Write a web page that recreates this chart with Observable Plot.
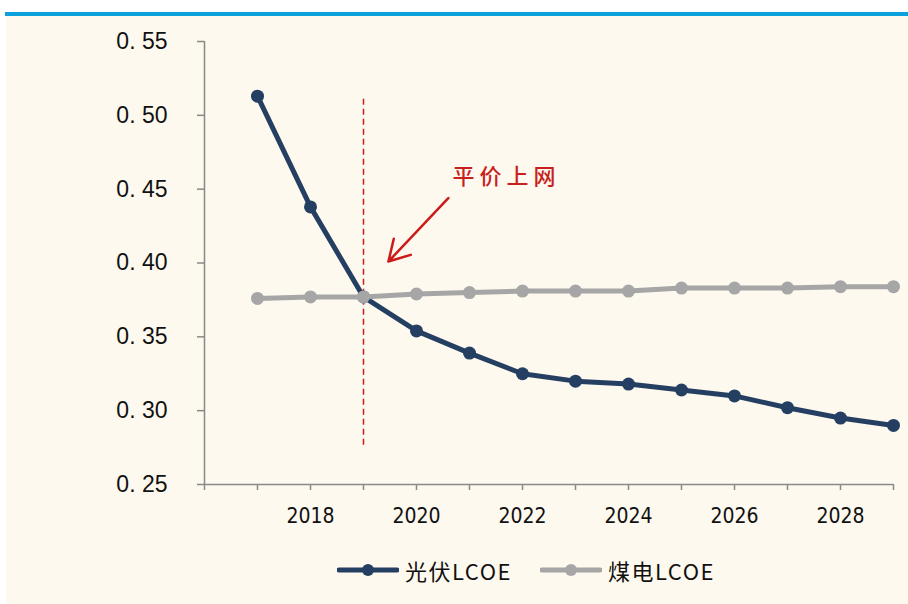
<!DOCTYPE html>
<html>
<head>
<meta charset="utf-8">
<script src="https://cdn.jsdelivr.net/npm/d3@7"></script>
<script src="https://cdn.jsdelivr.net/npm/@observablehq/plot@0.6"></script>
<style>
  html, body { margin: 0; padding: 0; background: #ffffff; }
  #wrap { position: relative; width: 908px; height: 604px; overflow: hidden; }
  #bg { position: absolute; left: 6px; top: 16px; right: 0; bottom: 0; background: #fef9ee; }
  #topbar { position: absolute; left: 5px; top: 12px; right: 0; height: 4px; background: #0aa1dd; }
  #chart { position: absolute; left: 0; top: 0; }
  #legend { position: absolute; left: 0; top: 553px; width: 908px; height: 34px; }
  .item { position: absolute; top: 0; display: flex; align-items: center; height: 34px;
          font-family: "Noto Sans CJK SC", sans-serif; font-size: 22px; color: #111; letter-spacing: 1.5px; }
  .item svg { margin-right: 6px; }
  .anno text { letter-spacing: 5px; }
</style>
</head>
<body>
<div id="wrap">
  <div id="bg"></div>
  <div id="topbar"></div>
  <div id="chart"></div>
  <div id="legend"></div>
</div>
<script>
// ---- data ----
const years = [2017, 2018, 2019, 2020, 2021, 2022, 2023, 2024, 2025, 2026, 2027, 2028, 2029];
const pvLCOE = [0.513, 0.438, 0.377, 0.354, 0.339, 0.325, 0.320, 0.318, 0.314, 0.310, 0.302, 0.295, 0.290];
const coalLCOE = [0.376, 0.377, 0.377, 0.379, 0.380, 0.381, 0.381, 0.381, 0.383, 0.383, 0.383, 0.384, 0.384];
const seriesNames = ["光伏LCOE", "煤电LCOE"];
const yTicks = [0.25, 0.30, 0.35, 0.40, 0.45, 0.50, 0.55];
const xTickYears = [2016, 2017, 2018, 2019, 2020, 2021, 2022, 2023, 2024, 2025, 2026, 2027, 2028, 2029];
const xLabelYears = [2018, 2020, 2022, 2024, 2026, 2028];
// annotation: parity year marker and arrow
const parityYear = [2019];
const parityRange = [0.2765, 0.511];
const annoText = ["平价上网"];
const annoTextPos = [2020.68, 0.458];
const arrowFrom = [2020.6, 0.444];
const arrowTo = [2019.47, 0.401];

const colors = ["#243f61", "#a6a6a6"];
const pvData = years.map((y, i) => ({year: y, v: pvLCOE[i]}));
const coalData = years.map((y, i) => ({year: y, v: coalLCOE[i]}));

const axisColor = "#898989";
const chart = Plot.plot({
  width: 908,
  height: 540,
  marginLeft: 204,
  marginRight: 15,
  marginTop: 41,
  marginBottom: 56,
  style: {background: "transparent", fontFamily: "Liberation Sans, Arial, sans-serif", color: "#111"},
  x: {domain: [2016, 2029], axis: null},
  y: {domain: [0.25, 0.55], axis: null},
  marks: [
    Plot.axisY({ticks: yTicks, tickSize: 7, tickPadding: 30, stroke: axisColor, strokeWidth: 1.5, label: null,
      tickFormat: d => d.toFixed(2).replace(".", ". "), fontSize: 23, fill: "#111"}),
    Plot.axisX({ticks: xTickYears, tickSize: 6, tickPadding: 18, stroke: axisColor, strokeWidth: 1.5, label: null,
      tickFormat: d => xLabelYears.includes(d) ? String(d) : "", fontSize: 21, fill: "#111",
      fontFamily: "Liberation Sans Narrow, DejaVu Sans Condensed, sans-serif"}),
    Plot.ruleX([2016], {y1: 0.25, y2: 0.55, stroke: axisColor, strokeWidth: 1.5}),
    Plot.ruleY([0.25], {x1: 2016, x2: 2029, stroke: axisColor, strokeWidth: 1.5}),
    Plot.ruleX(parityYear, {x: d => d, y1: parityRange[0], y2: parityRange[1], stroke: "#cc1b1b", strokeWidth: 1.5, strokeDasharray: "6,4"}),
    Plot.line(pvData, {x: "year", y: "v", stroke: colors[0], strokeWidth: 5}),
    Plot.dot(pvData, {x: "year", y: "v", r: 6.5, fill: colors[0], stroke: "none"}),
    Plot.line(coalData, {x: "year", y: "v", stroke: colors[1], strokeWidth: 5}),
    Plot.dot(coalData, {x: "year", y: "v", r: 6.5, fill: colors[1], stroke: "none"}),
    Plot.arrow([0], {x1: () => arrowFrom[0], y1: () => arrowFrom[1], x2: () => arrowTo[0], y2: () => arrowTo[1],
      stroke: "#cc1b1b", strokeWidth: 2.5, headLength: 14}),
    Plot.text(annoText, {x: () => annoTextPos[0], y: () => annoTextPos[1], text: d => d, textAnchor: "start",
      fill: "#c81f1f", fontSize: 22, fontWeight: 500, fontFamily: "Noto Sans CJK SC", className: "anno"})
  ]
});
document.getElementById("chart").appendChild(chart);

// legend
const legend = document.getElementById("legend");
const legendX = [337, 540];
seriesNames.forEach((name, i) => {
  const item = document.createElement("div");
  item.className = "item";
  item.style.left = legendX[i] + "px";
  item.innerHTML = `<svg width="62" height="16"><line x1="2" y1="8" x2="60" y2="8" stroke="${colors[i]}" stroke-width="5" stroke-linecap="round"/><circle cx="31" cy="8" r="6" fill="${colors[i]}"/></svg><span>${name}</span>`;
  legend.appendChild(item);
});
</script>
</body>
</html>
